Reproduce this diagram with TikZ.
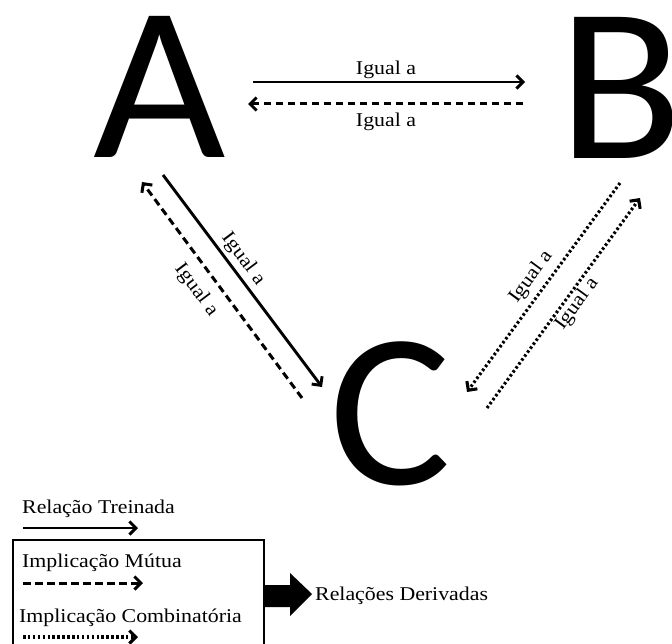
\documentclass[tikz,border=0pt]{standalone}
\usepackage{fontspec}
\setmainfont{Liberation Serif}[FakeStretch=1.12]
\newfontfamily\letterfont{Carlito}
\usetikzlibrary{arrows.meta}

\tikzset{
  letter/.style={font=\letterfont\fontsize{220}{220}\selectfont, inner sep=0pt, anchor=base west, xscale=1.04, transform shape},
  lbl/.style={font=\fontsize{19.5}{20}\selectfont, inner sep=0pt},
  headed/.style={-{Straight Barb[length=6.5pt,width=13pt]}},
  trained/.style={headed, line width=2.9pt},
  mutual/.style={headed, line width=3pt, dash pattern=on 7.5pt off 4.5pt},
  combin/.style={headed, line width=3.1pt, dash pattern=on 2.5pt off 2.4pt},
}

\begin{document}
\begin{tikzpicture}[x=1pt,y=-1pt]
\useasboundingbox (0,0) rectangle (672,644);
\clip (0,0) rectangle (672,644);

% the three stimuli
\node[letter] (A) at (93,158) {A};
\node[letter] (B) at (558,159) {B};
\node[letter] (C) at (329,484) {C};

% end points of the relations
\coordinate (ab1) at (253,82);  \coordinate (ab2) at (525,82);
\coordinate (ba1) at (523,104); \coordinate (ba2) at (248,104);
\coordinate (ac1) at (163,175); \coordinate (ac2) at (322,387);
\coordinate (ca1) at (302,398); \coordinate (ca2) at (142,182);
\coordinate (bc1) at (620,183); \coordinate (bc2) at (467,392);
\coordinate (cb1) at (487,408); \coordinate (cb2) at (640,198);

% relations
\draw[trained] (ab1) -- (ab2);
\draw[mutual]  (ba1) -- (ba2);
\draw[trained] (ac1) -- (ac2);
\draw[mutual]  (ca1) -- (ca2);
\draw[combin]  (bc1) -- (bc2);
\draw[combin]  (cb1) -- (cb2);

% relation labels
\node[lbl, anchor=base] (lab) at (386,75)  {Igual a};
\node[lbl, anchor=base] (lba) at (386,127) {Igual a};
\node[lbl, rotate=-53.1] (lac) at (243,259) {Igual a};
\node[lbl, rotate=-53.1] (lca) at (196,290) {Igual a};
\node[lbl, rotate=53.8]  (lbc) at (531,277) {Igual a};
\node[lbl, rotate=53.8]  (lcb) at (577,304) {Igual a};

% legend
\node[lbl, anchor=base west] (t1) at (22,513) {Relação Treinada};
\coordinate (k1a) at (23,528); \coordinate (k1b) at (138,528);
\draw[trained] (k1a) -- (k1b);

\draw[line width=1.6pt] (13,660) |- (264,540) -- (264,660);
\node[lbl, anchor=base west] (t2) at (22,567) {Implicação Mútua};
\coordinate (k2a) at (23,583); \coordinate (k2b) at (143,583);
\draw[mutual] (k2a) -- (k2b);
\node[lbl, anchor=base west] (t3) at (19,622) {Implicação Combinatória};
\coordinate (k3a) at (23,637); \coordinate (k3b) at (138,637);
\draw[combin] (k3a) -- (k3b);

% derived relations
\fill (264,585) -- (290,585) -- (290,573) -- (312,594) -- (290,616) -- (290,607) -- (264,607) -- cycle;
\node[lbl, anchor=base west] (t4) at (315,600) {Relações Derivadas};
\end{tikzpicture}
\end{document}
